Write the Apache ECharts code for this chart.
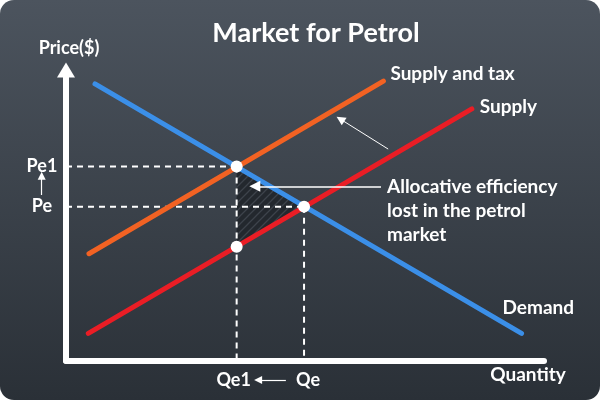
<!DOCTYPE html>
<html><head><meta charset="utf-8">
<script src="https://cdn.jsdelivr.net/npm/echarts@6/dist/echarts.min.js"></script>
<style>html,body{margin:0;padding:0;background:#fff;}#c{width:600px;height:400px;}</style>
</head><body><div id="c"></div>
<script>
// ---- data (Quantity 0..100, Price 0..100) ----
const demand = [[6.07, 95.2], [95.3, 9.4]];
const supply = [[4.67, 9.4], [84.9, 86.6]];
const supplyTax = [[4.81, 36.8], [66.4, 96.2]];
const qe1 = 35.7, qe = 49.8, pe1 = 66.8, pe = 53.0, pLow = 39.2;
const xTickLabels = ['Qe1', 'Qe'];
const yTickLabels = ['Pe1', 'Pe'];
const lossTriangle = [[qe1, pe1], [qe, pe], [qe1, pLow]];
const keyPoints = [[qe1, pe1], [qe, pe], [qe1, pLow]];
const arrowTax = [[67.4, 72.8], [57.4, 83.1]];
const arrowLoss = [[65.9, 60.0], [39.5, 60.0]];
const arrowP = [[-5.08, 57.0], [-5.08, 63.6]];
const arrowQ = [[46.0, -6.64], [40.2, -6.64]];

const FONT = 'Lato';
const chart = echarts.init(document.getElementById('c'), null, {renderer: 'canvas'});

// hatch pattern
const pc = document.createElement('canvas'); pc.width = 8; pc.height = 8;
const g = pc.getContext('2d');
g.fillStyle = '#23282e'; g.fillRect(0, 0, 8, 8);
g.strokeStyle = '#3d434b'; g.lineWidth = 1.3;
g.beginPath(); g.moveTo(0, 8); g.lineTo(8, 0); g.moveTo(-1, 1); g.lineTo(1, -1); g.moveTo(7, 9); g.lineTo(9, 7); g.stroke();

const dash = {color: '#ffffff', width: 2, type: [6, 5]};
const arrowLine = (data, size, width) => ({
  type: 'lines', coordinateSystem: 'cartesian2d', clip: false, silent: true, z: 8,
  symbol: ['none', 'triangle'], symbolSize: size,
  lineStyle: {color: '#ffffff', width: width, opacity: 1, curveness: 0},
  data: [{coords: data}]
});

chart.setOption({
  animation: false,
  backgroundColor: 'transparent',
  grid: {left: 66, right: 56, top: 70, bottom: 39.3},
  xAxis: {
    type: 'value', min: 0, max: 100,
    axisLine: {show: true, onZero: false, lineStyle: {color: '#ffffff', width: 6, cap: 'round'}},
    axisTick: {show: false}, splitLine: {show: false},
    axisLabel: {
      show: true, customValues: [qe1, qe], margin: 10,
      color: '#ffffff', fontFamily: FONT, fontWeight: 'bold', fontSize: 18,
      formatter: v => Math.abs(v - qe1) < 1e-6 ? '{a|' + xTickLabels[0] + '}' : '{b|' + xTickLabels[1] + '}',
      rich: {
        a: {color: '#fff', fontFamily: FONT, fontWeight: 'bold', fontSize: 18, padding: [0, 6, 0, 0]},
        b: {color: '#fff', fontFamily: FONT, fontWeight: 'bold', fontSize: 18, padding: [0, 0, 0, 8]}
      }
    }
  },
  yAxis: {
    type: 'value', min: 0, max: 100,
    axisLine: {show: true, onZero: false, symbol: ['none', 'triangle'], symbolSize: [18, 15],
      lineStyle: {color: '#ffffff', width: 6}},
    axisTick: {show: false}, splitLine: {show: false},
    axisLabel: {
      show: true, customValues: [pe1, pe], margin: 24, align: 'center',
      color: '#ffffff', fontFamily: FONT, fontWeight: 'bold', fontSize: 18,
      formatter: v => Math.abs(v - pe1) < 1e-6 ? yTickLabels[0] : yTickLabels[1]
    }
  },
  series: [
    {
      type: 'custom', silent: true, z: 1, data: [0],
      renderItem: (params, api) => ({
        type: 'polygon',
        shape: {points: lossTriangle.map(p => api.coord(p))},
        style: {fill: {image: pc, repeat: 'repeat'}}
      })
    },
    {type: 'line', silent: true, z: 3, showSymbol: false, lineStyle: dash, data: [[0, pe1], [qe1, pe1]]},
    {type: 'line', silent: true, z: 3, showSymbol: false, lineStyle: dash, data: [[qe1, pe1], [qe1, 0]]},
    {type: 'line', silent: true, z: 3, showSymbol: false, lineStyle: dash, data: [[0, pe], [qe, pe]]},
    {type: 'line', silent: true, z: 3, showSymbol: false, lineStyle: dash, data: [[qe, pe], [qe, 0]]},
    {name: 'Demand', type: 'line', silent: true, z: 5, showSymbol: false,
      lineStyle: {color: '#3b8fe8', width: 5, cap: 'round'}, data: demand},
    {name: 'Supply', type: 'line', silent: true, z: 5, showSymbol: false,
      lineStyle: {color: '#ea1d25', width: 5, cap: 'round'}, data: supply},
    {name: 'Supply and tax', type: 'line', silent: true, z: 5, showSymbol: false,
      lineStyle: {color: '#f26223', width: 5, cap: 'round'}, data: supplyTax},
    {type: 'scatter', silent: true, z: 9, symbol: 'circle', symbolSize: 12,
      itemStyle: {color: '#ffffff', opacity: 1}, data: keyPoints},
    arrowLine(arrowTax, [7, 9], 1),
    arrowLine(arrowLoss, [9, 11], 1.5),
    arrowLine(arrowP, [6, 8], 1.2),
    arrowLine(arrowQ, [6, 8], 1.2)
  ]
});

const px = p => chart.convertToPixel({gridIndex: 0}, p);
const txt = (text, at, dx, dy, align, vAlign, size, extra) => ({
  type: 'text', z: 100, silent: true,
  x: at[0] + dx, y: at[1] + dy,
  style: Object.assign({text: text, fill: '#ffffff', font: 'bold ' + size + 'px ' + FONT,
    textAlign: align, textVerticalAlign: vAlign}, extra || {})
});
const yTop = px([0, 100]);
const xEnd = px([100, 0]);
chart.setOption({
  graphic: [
    {type: 'rect', z: -100, silent: true, shape: {x: 0, y: 0, width: 600, height: 400, r: 14},
      style: {fill: new echarts.graphic.LinearGradient(0, 0, 0, 1, [
        {offset: 0, color: '#4c545e'}, {offset: 1, color: '#2a3037'}])}},
    txt('Market for Petrol', [300, 0], 16, 33, 'center', 'middle', 27),
    txt('Price($)', yTop, 3, -22, 'center', 'middle', 18),
    txt('Quantity', xEnd, -16, 14, 'center', 'middle', 19),
    txt('Supply and tax', px(supplyTax[1]), 7, -7, 'left', 'middle', 19),
    txt('Supply', px(supply[1]), 8, -2, 'left', 'middle', 19),
    txt('Demand', px(demand[1]), -19, -25, 'left', 'middle', 19),
    txt('Allocative efficiency\nlost in the petrol\nmarket', px(arrowLoss[0]), 6, -11, 'left', 'top', 19,
      {lineHeight: 24})
  ]
});
</script></body></html>
